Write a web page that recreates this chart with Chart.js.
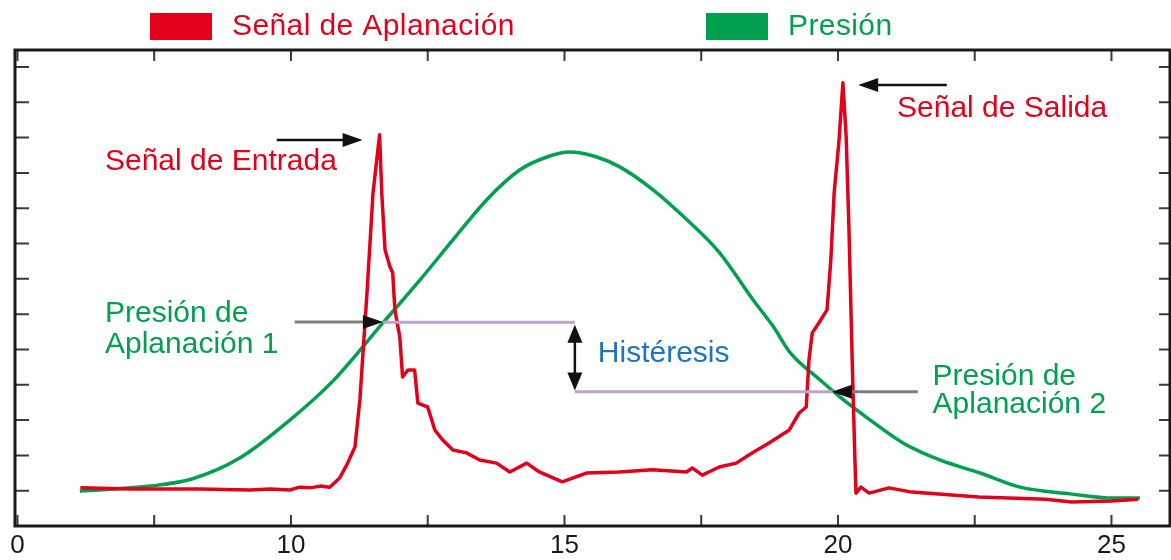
<!DOCTYPE html>
<html>
<head>
<meta charset="utf-8">
<script src="https://cdn.jsdelivr.net/npm/chart.js@4.4.1/dist/chart.umd.min.js"></script>
<style>
  html, body { margin: 0; padding: 0; background: #ffffff; }
  #wrap { width: 1171px; height: 560px; position: relative; }
</style>
</head>
<body>
<div id="wrap"><canvas id="c"></canvas></div>
<script>
// ---------- DATA ----------
const seriesLabels = ['Señal de Aplanación', 'Presión'];

// Red trace: applanation signal
const signalX = [6.15, 7.06, 8.34, 9.25, 9.62, 9.98, 10.16, 10.35, 10.53, 10.71, 10.89, 11.02, 11.17, 11.26, 11.39, 11.50, 11.62,
  11.66, 11.72, 11.81, 11.86, 11.90, 11.99, 12.04, 12.14, 12.26, 12.32, 12.50, 12.63, 12.77, 12.96, 13.21, 13.45, 13.76,
  14.00, 14.31, 14.54, 14.96, 15.40, 16.00, 16.61, 17.23, 17.34, 17.52, 17.83, 18.14, 18.43, 18.74, 19.11, 19.29, 19.42,
  19.47, 19.53, 19.65, 19.80, 19.87, 19.93, 20.02, 20.09, 20.15, 20.20, 20.26, 20.31, 20.33, 20.42, 20.57, 20.93, 21.35,
  22.57, 23.80, 24.27, 25.00, 25.49];
const signalY = [1.08, 1.05, 1.05, 1.02, 1.05, 1.02, 1.10, 1.08, 1.13, 1.10, 1.36, 1.73, 2.24, 3.57, 6.60, 9.43, 11.08,
  9.43, 7.82, 7.34, 7.17, 6.12, 5.35, 4.22, 4.42, 4.42, 3.48, 3.37, 2.72, 2.44, 2.15, 2.07, 1.87, 1.78,
  1.53, 1.78, 1.53, 1.25, 1.50, 1.53, 1.59, 1.53, 1.64, 1.44, 1.67, 1.78, 2.07, 2.35, 2.72, 3.20, 3.37,
  4.70, 5.47, 5.75, 6.12, 7.54, 9.43, 10.93, 12.55, 11.02, 8.47, 4.70, 1.87, 0.93, 1.10, 0.93, 1.08, 0.96,
  0.82, 0.76, 0.68, 0.71, 0.76];

// Green trace: cuff pressure
const pressureX = [6.14, 7.42, 8.19, 9.07, 9.98, 10.77, 11.68, 12.36, 12.96, 13.58, 14.18, 14.68, 15.10, 15.59, 16.01,
  16.62, 17.24, 17.84, 18.45, 18.82, 19.13, 19.67, 20.04, 20.59, 21.19, 21.86, 22.60, 23.33, 24.24, 25.03, 25.52];
const pressureY = [0.99, 1.13, 1.33, 1.93, 3.00, 4.11, 5.75, 6.97, 8.10, 9.24, 10.08, 10.45, 10.59, 10.45, 10.17,
  9.52, 8.67, 7.73, 6.40, 5.64, 4.90, 4.14, 3.65, 3.00, 2.35, 1.87, 1.50, 1.10, 0.91, 0.79, 0.79];

// Axis ticks
const xTickValues = [5, 7.5, 10, 12.5, 15, 17.5, 20, 22.5, 25];
const xTickLabels = ['0', '', '10', '', '15', '', '20', '', '25'];
const yTickValues = [1, 2, 3, 4, 5, 6, 7, 8, 9, 10, 11, 12, 13];

// Annotations (data coordinates)
const hysteresisLines = [
  { x1: 11.68, x2: 15.19, y: 5.77 },
  { x1: 15.19, x2: 19.91, y: 3.80 }
];
const hysteresisSpan = { x: 15.19, y1: 5.70, y2: 3.84 };
const pointerArrows = [
  { x1: 9.74, x2: 11.31, y: 10.93, shaft: 'black' },
  { x1: 21.99, x2: 20.37, y: 12.49, shaft: 'black' },
  { x1: 10.07, x2: 11.68, y: 5.78, shaft: 'gray' },
  { x1: 21.46, x2: 19.89, y: 3.80, shaft: 'gray' }
];
const annotationTexts = [
  { text: 'Señal de Entrada', x: 6.60, y: 10.08, color: 'red' },
  { text: 'Señal de Salida', x: 21.08, y: 11.59, color: 'red' },
  { text: 'Presión de', x: 6.60, y: 5.78, color: 'green' },
  { text: 'Aplanación 1', x: 6.60, y: 4.90, color: 'green' },
  { text: 'Histéresis', x: 15.61, y: 4.65, color: 'blue' },
  { text: 'Presión de', x: 21.73, y: 3.99, color: 'green' },
  { text: 'Aplanación 2', x: 21.73, y: 3.20, color: 'green' }
];

// ---------- STYLE ----------
const COLORS = { red: '#E2001A', green: '#00A04F', blue: '#1F74BE', purple: '#BBA5CB', gray: '#7E7E7E', black: '#111111' };
const FONT = '"Liberation Sans", Arial, Helvetica, sans-serif';
const TEXT_SIZE = 30;
const legendLayout = { boxLefts: [150, 706], boxTop: 13, boxW: 62, boxH: 27, gap: 20, baseline: 35 };

const toPoints = (xs, ys) => xs.map((x, i) => ({ x: x, y: ys[i] }));

// ---------- PLUGINS ----------
function arrowHead(ctx, tx, ty, dx, dy, len, half) {
  const bx = tx - dx * len, by = ty - dy * len;
  const nx = -dy, ny = dx;
  ctx.beginPath();
  ctx.moveTo(tx, ty);
  ctx.lineTo(bx + nx * half, by + ny * half);
  ctx.lineTo(bx - nx * half, by - ny * half);
  ctx.closePath();
  ctx.fill();
}

const annotationsPlugin = {
  id: 'annotations',
  afterDatasetsDraw(chart) {
    const { ctx, scales: { x, y } } = chart;
    ctx.save();
    ctx.lineCap = 'butt';
    // hysteresis reference lines
    ctx.strokeStyle = COLORS.purple;
    ctx.lineWidth = 3;
    hysteresisLines.forEach(l => {
      ctx.beginPath();
      ctx.moveTo(x.getPixelForValue(l.x1), y.getPixelForValue(l.y));
      ctx.lineTo(x.getPixelForValue(l.x2), y.getPixelForValue(l.y));
      ctx.stroke();
    });
    // pointer arrows
    pointerArrows.forEach(a => {
      const px1 = x.getPixelForValue(a.x1), px2 = x.getPixelForValue(a.x2), py = y.getPixelForValue(a.y);
      const dir = px2 > px1 ? 1 : -1;
      ctx.strokeStyle = a.shaft === 'gray' ? COLORS.gray : COLORS.black;
      ctx.lineWidth = a.shaft === 'gray' ? 3 : 2.5;
      ctx.beginPath();
      ctx.moveTo(px1, py);
      ctx.lineTo(px2 - dir * 14, py);
      ctx.stroke();
      ctx.fillStyle = COLORS.black;
      arrowHead(ctx, px2, py, dir, 0, 20, 7);
    });
    // double-headed hysteresis arrow
    const hx = x.getPixelForValue(hysteresisSpan.x);
    const hy1 = y.getPixelForValue(hysteresisSpan.y1), hy2 = y.getPixelForValue(hysteresisSpan.y2);
    ctx.strokeStyle = COLORS.black;
    ctx.lineWidth = 2.5;
    ctx.beginPath();
    ctx.moveTo(hx, hy1 + 14);
    ctx.lineTo(hx, hy2 - 14);
    ctx.stroke();
    ctx.fillStyle = COLORS.black;
    arrowHead(ctx, hx, hy1, 0, -1, 18, 7.5);
    arrowHead(ctx, hx, hy2, 0, 1, 18, 7.5);
    // text labels
    ctx.font = TEXT_SIZE + 'px ' + FONT;
    ctx.textAlign = 'left';
    ctx.textBaseline = 'alphabetic';
    annotationTexts.forEach(t => {
      ctx.fillStyle = COLORS[t.color];
      ctx.fillText(t.text, x.getPixelForValue(t.x), y.getPixelForValue(t.y));
    });
    ctx.restore();
  },
  afterDraw(chart) {
    const { ctx, chartArea: a, scales: { x, y } } = chart;
    ctx.save();
    // inward tick marks
    ctx.strokeStyle = '#3a3a3a';
    ctx.lineWidth = 2;
    ctx.beginPath();
    xTickValues.forEach(v => {
      const px = x.getPixelForValue(v);
      ctx.moveTo(px, a.bottom); ctx.lineTo(px, a.bottom - 11);
      ctx.moveTo(px, a.top); ctx.lineTo(px, a.top + 11);
    });
    yTickValues.forEach(v => {
      const py = y.getPixelForValue(v);
      ctx.moveTo(a.left, py); ctx.lineTo(a.left + 14, py);
      ctx.moveTo(a.right, py); ctx.lineTo(a.right - 11, py);
    });
    ctx.stroke();
    // frame
    ctx.strokeStyle = '#1a1a1a';
    ctx.lineWidth = 3;
    ctx.strokeRect(a.left, a.top, a.right - a.left, a.bottom - a.top);
    // legend
    ctx.font = TEXT_SIZE + 'px ' + FONT;
    ctx.textAlign = 'left';
    ctx.textBaseline = 'alphabetic';
    if ('letterSpacing' in ctx) ctx.letterSpacing = '0.4px';
    chart.data.datasets.forEach((ds, i) => {
      const left = legendLayout.boxLefts[i];
      ctx.fillStyle = ds.borderColor;
      ctx.fillRect(left, legendLayout.boxTop, legendLayout.boxW, legendLayout.boxH);
      ctx.fillText(ds.label, left + legendLayout.boxW + legendLayout.gap, legendLayout.baseline);
    });
    ctx.restore();
  }
};

// ---------- CHART ----------
new Chart(document.getElementById('c'), {
  type: 'line',
  data: {
    datasets: [
      {
        label: seriesLabels[0],
        data: toPoints(signalX, signalY),
        borderColor: COLORS.red,
        backgroundColor: COLORS.red,
        borderWidth: 3.5,
        tension: 0,
        borderJoinStyle: 'round',
        pointRadius: 0,
        fill: false
      },
      {
        label: seriesLabels[1],
        data: toPoints(pressureX, pressureY),
        borderColor: COLORS.green,
        backgroundColor: COLORS.green,
        borderWidth: 3.5,
        cubicInterpolationMode: 'monotone',
        borderJoinStyle: 'round',
        pointRadius: 0,
        fill: false
      }
    ]
  },
  options: {
    responsive: true,
    maintainAspectRatio: false,
    animation: false,
    layout: { padding: { left: 15, right: 1, top: 50, bottom: 0 } },
    plugins: { legend: { display: false }, tooltip: { enabled: false } },
    scales: {
      x: {
        type: 'linear',
        min: 4.955,
        max: 26.07,
        afterBuildTicks: s => { s.ticks = xTickValues.map(v => ({ value: v })); },
        afterFit: s => { s.height = 34; },
        grid: { display: false, drawTicks: false },
        border: { display: false },
        ticks: {
          autoSkip: false,
          maxRotation: 0,
          padding: 6,
          color: '#1a1a1a',
          font: { family: FONT, size: 26, lineHeight: 1.1 },
          callback: (v, i) => xTickLabels[i]
        }
      },
      y: { display: false, min: 0, max: 13.48 }
    }
  },
  plugins: [annotationsPlugin]
});
</script>
</body>
</html>
